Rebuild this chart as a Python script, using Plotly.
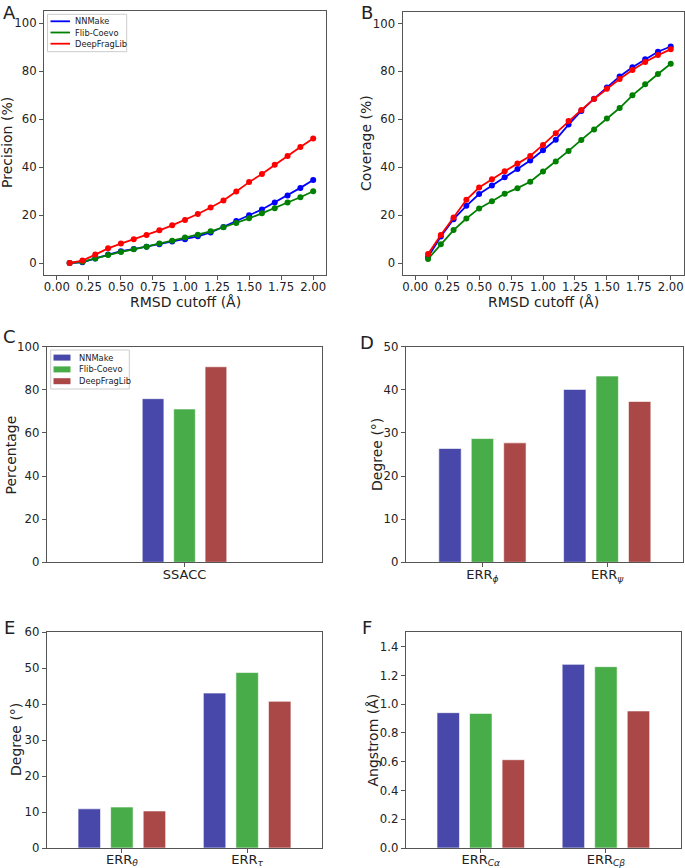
import plotly.graph_objects as go

W, H = 685, 868

# ---------------- data ----------------
rmsd = [0.1, 0.2, 0.3, 0.4, 0.5, 0.6, 0.7, 0.8, 0.9, 1.0,
        1.1, 1.2, 1.3, 1.4, 1.5, 1.6, 1.7, 1.8, 1.9, 2.0]
methods = ["NNMake", "Flib-Coevo", "DeepFragLib"]

prec_nnmake = [0.0, 0.3, 1.9, 3.5, 4.9, 5.8, 6.8, 7.8, 9.0, 9.9,
               11.1, 12.7, 15.0, 17.5, 19.9, 22.3, 25.2, 28.1, 31.3, 34.6]
prec_flib = [0.0, 0.5, 1.9, 3.3, 4.6, 5.7, 6.8, 8.1, 9.3, 10.6,
             11.8, 13.2, 14.9, 16.7, 18.6, 20.7, 22.8, 25.2, 27.4, 29.9]
prec_deep = [0.0, 1.0, 3.5, 6.1, 8.1, 9.9, 11.7, 13.6, 15.7, 17.9,
             20.4, 23.1, 26.0, 29.8, 33.7, 37.1, 40.9, 44.6, 48.3, 51.9]

cov_nnmake = [2.5, 11.1, 18.3, 23.9, 28.8, 32.4, 35.8, 39.2, 42.8, 47.1,
              51.5, 57.8, 63.5, 68.6, 73.3, 77.9, 81.7, 85.1, 88.2, 90.4]
cov_flib = [1.7, 7.8, 13.75, 18.6, 22.8, 25.8, 28.9, 31.25, 33.9, 38.2,
            42.4, 46.8, 51.4, 55.7, 60.3, 64.7, 70.0, 74.6, 78.9, 83.2]
cov_deep = [3.75, 11.7, 19.0, 26.4, 31.5, 35.0, 38.3, 41.5, 44.7, 49.3,
            54.2, 59.3, 63.9, 68.5, 72.8, 76.8, 80.6, 83.9, 86.8, 89.2]

cat_c = ["SSACC"]
ssacc = {"NNMake": [75.9], "Flib-Coevo": [71.1], "DeepFragLib": [90.7]}

cat_d = ["ERR<sub><i>ϕ</i></sub>", "ERR<sub><i>ψ</i></sub>"]
err_d = {"NNMake": [26.4, 40.1], "Flib-Coevo": [28.7, 43.2], "DeepFragLib": [27.7, 37.3]}

cat_e = ["ERR<sub><i>θ</i></sub>", "ERR<sub><i>τ</i></sub>"]
err_e = {"NNMake": [10.9, 43.1], "Flib-Coevo": [11.4, 48.8], "DeepFragLib": [10.3, 40.8]}

cat_f = ["ERR<sub><i>Cα</i></sub>", "ERR<sub><i>Cβ</i></sub>"]
err_f = {"NNMake": [0.941, 1.277], "Flib-Coevo": [0.936, 1.261], "DeepFragLib": [0.614, 0.953]}

# ---------------- styles ----------------
line_colors = {"NNMake": "#0000ff", "Flib-Coevo": "#008000", "DeepFragLib": "#ff0000"}
bar_colors = {"NNMake": "#4848aa", "Flib-Coevo": "#48ac48", "DeepFragLib": "#aa4848"}
FONT = "DejaVu Sans"
TXT = "#222222"
AX = "#555555"

def px(x):
    return x / W

def py(y):
    return 1 - y / H

def dom_x(a, b):
    return [px(a), px(b)]

def dom_y(top, bottom):
    return [py(bottom), py(top)]

fig = go.Figure()

# Panel A
for m, ys in zip(methods, [prec_nnmake, prec_flib, prec_deep]):
    fig.add_trace(go.Scatter(x=rmsd, y=ys, mode="lines+markers", name=m,
                             line=dict(color=line_colors[m], width=1.8),
                             marker=dict(color=line_colors[m], size=6),
                             showlegend=False, xaxis="x", yaxis="y"))

# Panel B
for m, ys in zip(methods, [cov_nnmake, cov_flib, cov_deep]):
    fig.add_trace(go.Scatter(x=rmsd, y=ys, mode="lines+markers", name=m,
                             line=dict(color=line_colors[m], width=1.8),
                             marker=dict(color=line_colors[m], size=6),
                             showlegend=False, xaxis="x2", yaxis="y2"))

def add_bars(cats, data, xa, ya):
    for m in methods:
        fig.add_trace(go.Bar(x=cats, y=data[m], name=m,
                             marker=dict(color=bar_colors[m],
                                         line=dict(color="rgba(255,255,255,0.6)", width=1)),
                             showlegend=False, xaxis=xa, yaxis=ya))

add_bars(cat_c, ssacc, "x3", "y3")
add_bars(cat_d, err_d, "x4", "y4")
add_bars(cat_e, err_e, "x5", "y5")
add_bars(cat_f, err_f, "x6", "y6")

numfont = dict(family=FONT, size=11.7, color=TXT)
catfont = dict(family=FONT, size=13, color=TXT)
common = dict(showline=True, linecolor=AX, linewidth=1, mirror=True,
              ticks="outside", ticklen=4, tickcolor=AX, tickwidth=1,
              showgrid=False, zeroline=False, automargin=False)
xcommon = dict(common, ticklabelstandoff=-3)
ccommon = dict(common, ticklabelstandoff=-4)
bcommon = dict(common, ticklabelstandoff=-5)

xt = [0, 0.25, 0.5, 0.75, 1.0, 1.25, 1.5, 1.75, 2.0]
lay = dict(
    template="none",
    width=W, height=H, margin=dict(l=0, r=0, t=0, b=0, pad=0),
    plot_bgcolor="white", paper_bgcolor="white",
    font=dict(family=FONT, color=TXT),
    showlegend=False,
    barmode="group", bargap=0.22, bargroupgap=0.31,
    xaxis=dict(domain=dom_x(44, 326), range=[-0.1, 2.1], tickvals=xt, tickformat=".2f",
               anchor="y", tickfont=numfont, **xcommon),
    yaxis=dict(domain=dom_y(11, 275), range=[-5, 105], tickvals=[0, 20, 40, 60, 80, 100],
               anchor="x", tickfont=numfont, **common),
    xaxis2=dict(domain=dom_x(402.5, 683.5), range=[-0.1, 2.1], tickvals=xt, tickformat=".2f",
                anchor="y2", tickfont=numfont, **xcommon),
    yaxis2=dict(domain=dom_y(11.5, 275), range=[-5, 105], tickvals=[0, 20, 40, 60, 80, 100],
                anchor="x2", tickfont=numfont, **common),
    xaxis3=dict(domain=dom_x(46.7, 322.3), range=[-1.14, 1.14], anchor="y3", type="category",
                tickfont=catfont, **ccommon),
    yaxis3=dict(domain=dom_y(346.7, 562.3), range=[0, 100], tickvals=[0, 20, 40, 60, 80, 100],
                anchor="x3", tickfont=numfont, **common),
    xaxis4=dict(domain=dom_x(405.7, 682.7), range=[-0.615, 1.605], anchor="y4", type="category",
                tickfont=catfont, **ccommon),
    yaxis4=dict(domain=dom_y(346.7, 562.3), range=[0, 50], tickvals=[0, 10, 20, 30, 40, 50],
                anchor="x4", tickfont=numfont, **common),
    xaxis5=dict(domain=dom_x(46.7, 322.3), range=[-0.6, 1.6], anchor="y5", type="category",
                tickfont=catfont, **bcommon),
    yaxis5=dict(domain=dom_y(632.3, 848), range=[0, 60], tickvals=[0, 10, 20, 30, 40, 50, 60],
                anchor="x5", tickfont=numfont, **common),
    xaxis6=dict(domain=dom_x(405.7, 681), range=[-0.6, 1.6], anchor="y6", type="category",
                tickfont=catfont, **bcommon),
    yaxis6=dict(domain=dom_y(632.3, 848), range=[0, 1.5], tickvals=[0, 0.2, 0.4, 0.6, 0.8, 1.0, 1.2, 1.4],
                tickformat=".1f", anchor="x6", tickfont=numfont, **common),
)
fig.update_layout(**lay)

annots = []
shapes = []

def ann(text, x, y, size=14, angle=0, xanchor="center", yanchor="middle"):
    annots.append(dict(text=text, x=px(x), y=py(y), xref="paper", yref="paper",
                       showarrow=False, textangle=angle, xanchor=xanchor, yanchor=yanchor,
                       font=dict(family=FONT, size=size, color=TXT)))

# axis titles
ann("RMSD cutoff (Å)", 185, 302)
ann("RMSD cutoff (Å)", 543.5, 302)
ann("Precision (%)", 7, 143, angle=-90)
ann("Coverage (%)", 366, 143, angle=-90)
ann("Percentage", 10.5, 455, angle=-90)
ann("Degree (°)", 377, 455, angle=-90)
ann("Degree (°)", 16, 740, angle=-90)
ann("Angstrom (Å)", 372.5, 740, angle=-90)
# panel letters
ann("A", 9, 0, size=18, yanchor="top")
ann("B", 367.5, 0, size=18, yanchor="top")
ann("C", 9.5, 336, size=18)
ann("D", 367, 342, size=18)
ann("E", 9, 627, size=18)
ann("F", 367.5, 627, size=18)

# compact legends (matplotlib style)
def legend_box(x0, y0, x1, y1):
    shapes.append(dict(type="rect", xref="paper", yref="paper",
                       x0=px(x0), x1=px(x1), y0=py(y1), y1=py(y0),
                       line=dict(color="#cccccc", width=1), fillcolor="rgba(255,255,255,0.8)",
                       layer="above"))

legend_box(47.5, 14.3, 126.7, 51.7)
for i, m in enumerate(methods):
    yy = 21.3 + i * 11.2
    shapes.append(dict(type="line", xref="paper", yref="paper",
                       x0=px(50.5), x1=px(70), y0=py(yy), y1=py(yy),
                       line=dict(color=line_colors[m], width=1.8), layer="above"))
    ann(m, 73, yy, size=8.3, xanchor="left")

legend_box(50.7, 350, 129.3, 389)
for i, m in enumerate(methods):
    yy = 357.6 + i * 11.8
    shapes.append(dict(type="rect", xref="paper", yref="paper",
                       x0=px(53.5), x1=px(70.5), y0=py(yy + 3), y1=py(yy - 3),
                       line=dict(width=0), fillcolor=bar_colors[m], layer="above"))
    ann(m, 76.5, yy, size=8.3, xanchor="left")

fig.update_layout(annotations=annots, shapes=shapes)

fig.write_html("out.html", config={"displayModeBar": False},
               post_script="document.body.style.margin='0px';")
